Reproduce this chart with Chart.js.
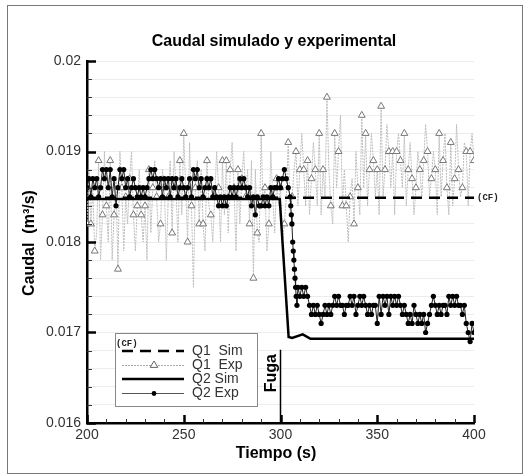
<!DOCTYPE html>
<html>
<head>
<meta charset="utf-8">
<script src="https://cdn.jsdelivr.net/npm/chart.js@4"></script>
<style>
  body { margin: 0; background: #fff; }
  canvas { display: block; }
</style>
</head>
<body>
<canvas id="caudalChart" width="531" height="475"></canvas>
<script>
// Experimental series are sampled every 1 s starting here
const expStart = 200;
const q2AfterStart = 309;

// Q1 simulado (CF): constant
const q1SimTime = [200, 400];
const q1SimVal = [0.01849, 0.01849];

// Q2 simulado
const q2SimTime = [200, 299.6, 304.2, 306, 311.5, 315.5, 400];
const q2SimVal = [0.018475, 0.018475, 0.01695, 0.01694, 0.01698, 0.01693, 0.01693];

// Q1 experimental, 200..400 s (triangles on even seconds)
const q1ExpVal = [
  0.0182, 0.0188, 0.0182, 0.0186, 0.0179, 0.0181, 0.0189, 0.0178, 0.0183, 0.0190,
  0.0184, 0.0180, 0.0189, 0.0178, 0.0183, 0.0187, 0.0177, 0.0190, 0.0186, 0.0179,
  0.0185, 0.0182, 0.0187, 0.0190, 0.0183, 0.0179, 0.0184, 0.0188, 0.0183, 0.0180,
  0.0184, 0.0178, 0.0188, 0.0181, 0.0186, 0.0189, 0.0185, 0.0180, 0.0182, 0.0188,
  0.0186, 0.0178, 0.0185, 0.0189, 0.0181, 0.0190, 0.0186, 0.0180, 0.0189, 0.0183,
  0.0192, 0.0186, 0.0180, 0.0191, 0.0184, 0.0175, 0.0186, 0.0189, 0.0182, 0.0188,
  0.0182, 0.0179, 0.0189, 0.0184, 0.0183, 0.0180, 0.0185, 0.0190, 0.0186, 0.0180,
  0.0189, 0.0183, 0.0189, 0.0181, 0.0188, 0.0191, 0.0186, 0.0179, 0.0188, 0.0182,
  0.0187, 0.0190, 0.0185, 0.0188, 0.0182, 0.0189, 0.0176, 0.0188, 0.0181, 0.0180,
  0.0192, 0.0184, 0.0186, 0.0179, 0.0182, 0.0190, 0.0185, 0.0181, 0.0187, 0.0184,
  0.0186, 0.0180, 0.0182, 0.0185, 0.0191, 0.0183, 0.0185, 0.0188, 0.0190, 0.0184,
  0.0188, 0.0192, 0.0188, 0.0184, 0.0189, 0.0183, 0.0187, 0.0191, 0.0188, 0.0184,
  0.0192, 0.0183, 0.0188, 0.0185, 0.0196, 0.0188, 0.0184, 0.0182, 0.0192, 0.0186,
  0.0190, 0.0194, 0.0184, 0.0188, 0.0184, 0.0180, 0.0185, 0.0187, 0.0182, 0.0190,
  0.0186, 0.0183, 0.0194, 0.0186, 0.0192, 0.0184, 0.0188, 0.0192, 0.0189, 0.0185,
  0.0188, 0.0183, 0.0195, 0.0185, 0.0188, 0.0193, 0.0190, 0.0186, 0.0190, 0.0183,
  0.0190, 0.0192, 0.0189, 0.0186, 0.0192, 0.0184, 0.0188, 0.0191, 0.0187, 0.0183,
  0.0186, 0.0190, 0.0188, 0.0185, 0.0189, 0.0193, 0.0190, 0.0185, 0.0187, 0.0190,
  0.0188, 0.0183, 0.0192, 0.0185, 0.0189, 0.0192, 0.0186, 0.0183, 0.0191, 0.0184,
  0.0187, 0.0193, 0.0188, 0.0185, 0.0186, 0.0191, 0.0190, 0.0184, 0.0190, 0.0192,
  0.0189
];

// Q2 experimental before the leak, 200..304 s
const q2ExpBefore = [
  0.0186, 0.0187, 0.0185, 0.0187, 0.0186, 0.0187, 0.0185, 0.0186, 0.0188, 0.0187,
  0.0188, 0.0186, 0.0188, 0.0185, 0.0187, 0.0184, 0.0186, 0.0188, 0.0187, 0.0188,
  0.0186, 0.0187, 0.0185, 0.0186, 0.0187, 0.0186, 0.0185, 0.0186, 0.0185, 0.0186,
  0.0185, 0.0186, 0.0187, 0.0188, 0.0187, 0.0188, 0.0187, 0.0186, 0.0187, 0.0185,
  0.0187, 0.0186, 0.0187, 0.0185, 0.0187, 0.0186, 0.0187, 0.0185, 0.0186, 0.0187,
  0.0186, 0.0185, 0.0186, 0.0187, 0.0185, 0.0188, 0.0187, 0.0188, 0.0186, 0.0187,
  0.0185, 0.0186, 0.0187, 0.0186, 0.0187, 0.0185, 0.0186, 0.0185, 0.0184, 0.0185,
  0.0184, 0.0185, 0.0184, 0.0185, 0.0186, 0.0185, 0.0186, 0.0185, 0.0186, 0.0187,
  0.0186, 0.0187, 0.0186, 0.0185, 0.0186, 0.0184, 0.0185, 0.0183, 0.0185, 0.0184,
  0.0184, 0.0185, 0.0184, 0.0185, 0.0184, 0.0186, 0.0185, 0.0186, 0.0186, 0.0187,
  0.0186, 0.0187, 0.0188, 0.0187, 0.0186
];

// Q2 experimental during the drop
const q2DropTime = [305, 305.3, 305.6, 305.9, 306.3, 306.6, 306.9, 307.2, 307.5, 307.8, 308.1, 308.5];
const q2DropVal = [0.0185, 0.0184, 0.0183, 0.0182, 0.0180, 0.0179, 0.0178, 0.0177, 0.0176, 0.0175, 0.0174, 0.0173];

// Q2 experimental after the leak, 309..400 s
const q2ExpAfter = [
  0.0175,
  0.0174, 0.0175, 0.0174, 0.0175, 0.0174, 0.0173, 0.0172, 0.0173, 0.0172, 0.0173,
  0.0172, 0.0171, 0.0172, 0.0173, 0.0172, 0.0173, 0.0172, 0.0173, 0.0174, 0.0173,
  0.0174, 0.0173, 0.0173, 0.0172, 0.0173, 0.0173, 0.0174, 0.0173, 0.0174, 0.0172,
  0.0173, 0.0174, 0.0173, 0.0174, 0.0173, 0.0172, 0.0173, 0.0172, 0.0173, 0.0173,
  0.0171, 0.0174, 0.0172, 0.0174, 0.0173, 0.0174, 0.0172, 0.0174, 0.0173, 0.0174,
  0.0173, 0.0174, 0.0173, 0.0172, 0.0173, 0.0172, 0.0171, 0.0172, 0.0171, 0.0173,
  0.0172, 0.0171, 0.0172, 0.0171, 0.0172, 0.0170, 0.0171, 0.0172, 0.0173, 0.0174,
  0.0173, 0.0172, 0.0173, 0.0172, 0.0173, 0.0173, 0.0172, 0.0174, 0.0173, 0.0174,
  0.0173, 0.0174, 0.0173, 0.0173, 0.0172, 0.0173, 0.0171, 0.0170, 0.0169, 0.0171,
  0.0170
];

// Leak marker
const fugaTime = [300, 300];
const fugaVal = [0.01681, 0.016];

const FONT = "'Liberation Sans', Arial, sans-serif";
Chart.defaults.font.family = FONT;
Chart.defaults.font.size = 14;
Chart.defaults.color = '#333';

const toPoints = (times, vals) => times.map((t, i) => ({ x: t, y: vals[i] }));
const fromStart = (start, vals) => vals.map((v, i) => ({ x: start + i, y: v }));

const q2ExpData = [
    ...fromStart(expStart, q2ExpBefore),
    ...toPoints(q2DropTime, q2DropVal),
    ...fromStart(q2AfterStart, q2ExpAfter)
];

const isMajorY = v => Math.abs(v * 1000 - Math.round(v * 1000)) < 1e-6;

const drawTriangle = (ctx, cx, cy, r) => {
    ctx.beginPath();
    ctx.moveTo(cx, cy - r);
    ctx.lineTo(cx + r * 0.95, cy + r * 0.6);
    ctx.lineTo(cx - r * 0.95, cy + r * 0.6);
    ctx.closePath();
    ctx.fillStyle = '#fff';
    ctx.fill();
    ctx.strokeStyle = '#666';
    ctx.lineWidth = 1;
    ctx.stroke();
};

const decorPlugin = {
    id: 'decor',
    afterDraw(chart) {
        const { ctx, chartArea: area, scales: { x, y } } = chart;
        ctx.save();

        // outer frame
        ctx.strokeStyle = '#777';
        ctx.lineWidth = 1;
        ctx.strokeRect(7.5, 5.5, 515, 468);

        // inner ticks on y axis
        y.ticks.forEach(t => {
            const py = Math.round(y.getPixelForValue(t.value)) + 0.5;
            const major = isMajorY(t.value);
            ctx.strokeStyle = major ? '#000' : '#333';
            ctx.lineWidth = major ? 2.5 : 1;
            ctx.beginPath();
            ctx.moveTo(area.left, py);
            ctx.lineTo(area.left + (major ? 9 : 5), py);
            ctx.stroke();
        });
        // inner ticks on x axis
        x.ticks.forEach(t => {
            const px = Math.round(x.getPixelForValue(t.value)) + 0.5;
            const major = t.value % 50 === 0;
            ctx.strokeStyle = major ? '#000' : '#333';
            ctx.lineWidth = major ? 2.5 : 1;
            ctx.beginPath();
            ctx.moveTo(px, area.bottom);
            ctx.lineTo(px, area.bottom - (major ? 8 : 4));
            ctx.stroke();
        });

        // titles
        ctx.fillStyle = '#000';
        ctx.font = `bold 16px ${FONT}`;
        ctx.textAlign = 'center';
        ctx.textBaseline = 'middle';
        ctx.fillText('Caudal simulado y experimental', 274, 42);
        ctx.fillText('Tiempo (s)', 276, 454);
        ctx.save();
        ctx.translate(30, 243);
        ctx.rotate(-Math.PI / 2);
        ctx.fillText('Caudal  (m³/s)', 0, 0);
        ctx.restore();

        // Fuga label
        ctx.save();
        ctx.translate(x.getPixelForValue(fugaTime[0]) - 9, y.getPixelForValue(0.01655));
        ctx.rotate(-Math.PI / 2);
        ctx.fillText('Fuga', 0, 0);
        ctx.restore();

        // (CF) tag at end of Q1 Sim
        ctx.font = "bold 9px 'Liberation Mono', monospace";
        ctx.fillStyle = '#222';
        ctx.textAlign = 'left';
        ctx.fillText('(CF)', x.getPixelForValue(400) + 3, y.getPixelForValue(q1SimVal[1]));

        // legend box
        const lx = 115, ly = 333, lw = 142, lh = 73;
        ctx.fillStyle = '#fff';
        ctx.fillRect(lx, ly, lw, lh);
        ctx.strokeStyle = '#888';
        ctx.lineWidth = 1;
        ctx.strokeRect(lx + 0.5, ly + 0.5, lw, lh);

        const sx0 = 122, sx1 = 184, mid = 154, tx = 192;
        const rows = [351, 365, 379, 393];

        ctx.fillStyle = '#222';
        ctx.fillText('(CF)', 116, 344);

        // Q1 Sim
        ctx.strokeStyle = '#000';
        ctx.lineWidth = 2.5;
        ctx.setLineDash([11, 7]);
        ctx.beginPath(); ctx.moveTo(sx0, rows[0]); ctx.lineTo(sx1, rows[0]); ctx.stroke();
        // Q1 Exp
        ctx.strokeStyle = '#aaa';
        ctx.lineWidth = 1;
        ctx.setLineDash([2, 1]);
        ctx.beginPath(); ctx.moveTo(sx0, rows[1] + 0.5); ctx.lineTo(sx1, rows[1] + 0.5); ctx.stroke();
        ctx.setLineDash([]);
        drawTriangle(ctx, mid, rows[1], 4);
        // Q2 Sim
        ctx.strokeStyle = '#000';
        ctx.lineWidth = 2.5;
        ctx.beginPath(); ctx.moveTo(sx0, rows[2]); ctx.lineTo(sx1, rows[2]); ctx.stroke();
        // Q2 Exp
        ctx.strokeStyle = '#555';
        ctx.lineWidth = 1;
        ctx.beginPath(); ctx.moveTo(sx0, rows[3] + 0.5); ctx.lineTo(sx1, rows[3] + 0.5); ctx.stroke();
        ctx.fillStyle = '#000';
        ctx.beginPath(); ctx.arc(mid, rows[3] + 0.5, 2.4, 0, Math.PI * 2); ctx.fill();

        ctx.font = `14px ${FONT}`;
        ctx.fillStyle = '#333';
        ctx.textAlign = 'left';
        ctx.fillText('Q1  Sim', tx, rows[0]);
        ctx.fillText('Q1  Exp', tx, rows[1]);
        ctx.fillText('Q2 Sim', tx, rows[2]);
        ctx.fillText('Q2 Exp', tx, rows[3]);

        ctx.restore();
    }
};

const ctx = document.getElementById('caudalChart').getContext('2d');
new Chart(ctx, {
    type: 'line',
    data: {
        datasets: [
            {
                label: 'Q2 Sim',
                data: toPoints(q2SimTime, q2SimVal),
                borderColor: '#000',
                borderWidth: 2.5,
                pointRadius: 0,
                order: 0
            },
            {
                label: 'Q1 Sim',
                data: toPoints(q1SimTime, q1SimVal),
                borderColor: '#000',
                borderWidth: 2.5,
                borderDash: [11, 7],
                pointRadius: 0,
                order: 1
            },
            {
                label: 'Fuga',
                data: toPoints(fugaTime, fugaVal),
                borderColor: '#000',
                borderWidth: 1.5,
                pointRadius: 0,
                order: 1
            },
            {
                label: 'Q2 Exp',
                data: q2ExpData,
                borderColor: '#222',
                borderWidth: 1,
                pointRadius: 2.6,
                pointBackgroundColor: '#000',
                pointBorderWidth: 0,
                order: 2
            },
            {
                label: 'Q1 Exp',
                data: fromStart(expStart, q1ExpVal),
                borderColor: '#bdbdbd',
                borderWidth: 1,
                borderDash: [2, 1],
                pointStyle: 'triangle',
                pointRadius: c => (c.dataIndex % 2 === 0 ? 4 : 0),
                pointBackgroundColor: '#fff',
                pointBorderColor: '#777',
                pointBorderWidth: 1,
                order: 3
            }
        ]
    },
    options: {
        responsive: false,
        animation: false,
        events: [],
        layout: { padding: { left: 0, right: 57, top: 61, bottom: 0 } },
        plugins: {
            legend: { display: false },
            tooltip: { enabled: false }
        },
        scales: {
            x: {
                type: 'linear',
                min: 200,
                max: 400,
                afterFit: s => { s.height = 52; },
                grid: { display: false, drawTicks: false },
                border: { display: true, color: '#000', width: 2.5 },
                ticks: {
                    stepSize: 10,
                    autoSkip: false,
                    maxRotation: 0,
                    padding: 4,
                    color: '#333',
                    callback: v => (v % 50 === 0 ? String(v) : '')
                }
            },
            y: {
                type: 'linear',
                min: 0.016,
                max: 0.02,
                afterFit: s => { s.width = 87; },
                grid: { color: '#ececec', lineWidth: 1, drawTicks: false },
                border: { display: true, color: '#000', width: 2.5 },
                ticks: {
                    stepSize: 0.0002,
                    autoSkip: false,
                    padding: 6,
                    color: '#333',
                    callback: v => (isMajorY(v) ? String(parseFloat(v.toFixed(3))) : '')
                }
            }
        }
    },
    plugins: [decorPlugin]
});
</script>
</body>
</html>
